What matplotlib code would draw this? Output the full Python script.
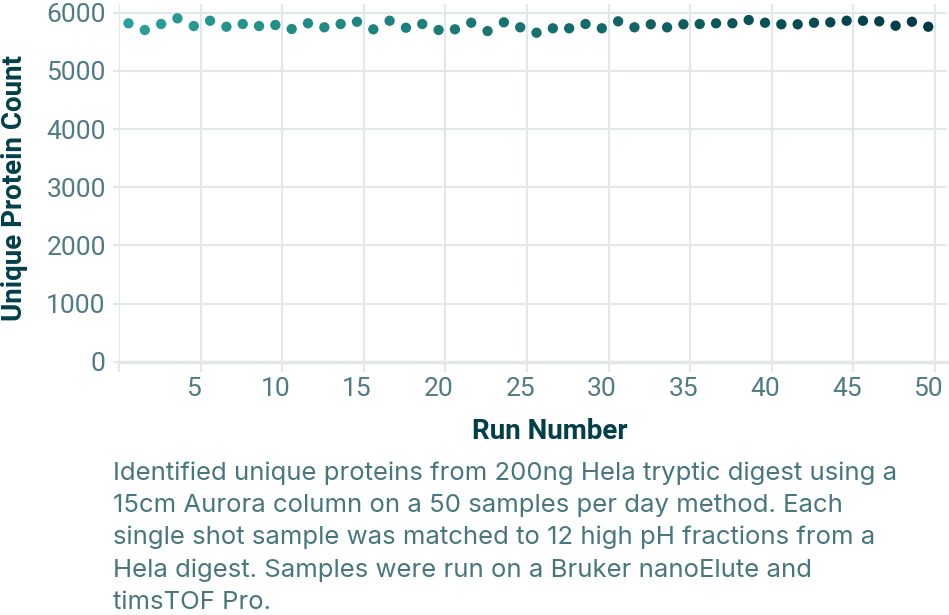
import matplotlib
matplotlib.use('Agg')
import matplotlib.pyplot as plt
import numpy as np
from matplotlib.colors import LinearSegmentedColormap

# ── Data ──────────────────────────────────────────────────────────────────────
runs = list(range(1, 51))
protein_counts = [
    5818, 5703, 5806, 5904, 5771, 5862, 5759, 5806, 5771, 5789,
    5720, 5818, 5749, 5806, 5845, 5715, 5862, 5742, 5806, 5703,
    5715, 5828, 5685, 5835, 5749, 5656, 5732, 5732, 5806, 5732,
    5852, 5749, 5801, 5749, 5801, 5806, 5818, 5818, 5875, 5828,
    5801, 5801, 5828, 5835, 5862, 5862, 5852, 5777, 5845, 5759,
]
x_ticks = [5, 10, 15, 20, 25, 30, 35, 40, 45, 50]
y_ticks = [0, 1000, 2000, 3000, 4000, 5000, 6000]
caption = ("Identified unique proteins from 200ng Hela tryptic digest using a\n"
           "15cm Aurora column on a 50 samples per day method. Each\n"
           "single shot sample was matched to 12 high pH fractions from a\n"
           "Hela digest. Samples were run on a Bruker nanoElute and\n"
           "timsTOF Pro.")

DARK = '#013f4a'
TICK = '#4f7c82'
GRID = '#e2e8ea'

plt.rcParams['font.family'] = ['Roboto', 'DejaVu Sans']

fig = plt.figure(figsize=(9.49, 6.15), dpi=100)
ax = fig.add_axes([0.1254, 0.4119, 0.8725, 0.5816])

cmap = LinearSegmentedColormap.from_list('teal', ['#28a198', '#17716f', '#003a46'])
ax.scatter(runs, protein_counts, c=runs, cmap=cmap, s=55, linewidths=0, zorder=3)

ax.set_xlim(0.45, 51.15)
ax.set_ylim(0, 6150)

# gridlines sit a bit right of the run positions, like a band scale
ax.set_xticks(x_ticks)
ax.set_xticks([t + 0.42 for t in [0] + x_ticks], minor=True)
ax.set_yticks(y_ticks)
ax.grid(False)
ax.grid(True, which='minor', axis='x', color=GRID, lw=1.5)
ax.grid(True, which='major', axis='y', color=GRID, lw=1.5)
ax.set_axisbelow(True)

ax.tick_params(axis='x', which='major', length=0, pad=11, labelsize=19, labelcolor=TICK)
ax.tick_params(axis='x', which='minor', length=7, width=1.5, color=GRID)
ax.tick_params(axis='y', length=4.5, width=1.5, color=GRID, pad=5,
               labelsize=19, labelcolor=TICK)

for side in ['top', 'right', 'left']:
    ax.spines[side].set_visible(False)
ax.spines['bottom'].set_color(GRID)
ax.spines['bottom'].set_linewidth(2.5)

ax.set_xlabel('Run Number', fontsize=20, fontweight='bold', color=DARK)
ax.xaxis.set_label_coords(0.5205, -0.157)
ax.set_ylabel('Unique Protein Count', fontsize=20, fontweight='bold', color=DARK)
ax.yaxis.set_label_coords(-0.110, 0.4856)

fig.text(0.119, 0.2504, caption, ha='left', va='top', fontsize=18.5,
         color='#47777d', linespacing=1.5, family=['Inter', 'DejaVu Sans'])

fig.savefig('out.png', dpi=100)
